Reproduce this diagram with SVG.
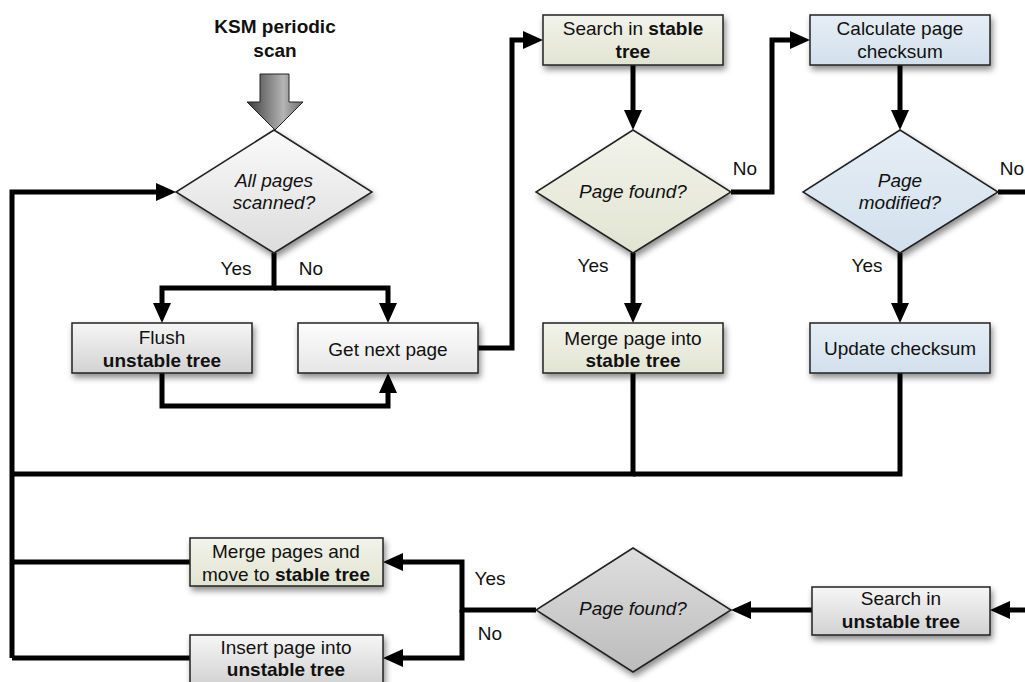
<svg xmlns="http://www.w3.org/2000/svg" width="1025" height="682" viewBox="0 0 1025 682">
  <defs>
    <style>
      text { font-family: "Liberation Sans", Arial, sans-serif; font-size: 19px; fill: #111; text-anchor: middle; }
      .b { font-weight: bold; }
      .i { font-style: italic; }
      .node { stroke: #222; stroke-width: 1.5; filter: url(#shadow); }
      .conn { fill: none; stroke: #000; stroke-width: 5; stroke-linejoin: miter; }
      .arr { marker-end: url(#head); }
    </style>
    <filter id="shadow" x="-20%" y="-30%" width="150%" height="170%">
      <feDropShadow dx="2" dy="4" stdDeviation="3" flood-color="#000" flood-opacity="0.45"/>
    </filter>
    <marker id="head" markerUnits="userSpaceOnUse" viewBox="0 0 20 18" refX="10" refY="9" markerWidth="20" markerHeight="18" orient="auto">
      <path d="M0,0 L20,9 L0,18 z" fill="#000"/>
    </marker>
    <linearGradient id="gGray" x1="0" y1="0" x2="0" y2="1">
      <stop offset="0" stop-color="#f6f6f6"/>
      <stop offset="1" stop-color="#d2d2d2"/>
    </linearGradient>
    <linearGradient id="gWhite" x1="0" y1="0" x2="0" y2="1">
      <stop offset="0" stop-color="#fdfdfd"/>
      <stop offset="1" stop-color="#e6e6e6"/>
    </linearGradient>
    <linearGradient id="gGreen" x1="0" y1="0" x2="0" y2="1">
      <stop offset="0" stop-color="#f2f3ea"/>
      <stop offset="1" stop-color="#e2e4d2"/>
    </linearGradient>
    <linearGradient id="gBlue" x1="0" y1="0" x2="0" y2="1">
      <stop offset="0" stop-color="#e6eef6"/>
      <stop offset="1" stop-color="#d2e0ec"/>
    </linearGradient>
    <linearGradient id="gDia1" x1="0" y1="0" x2="0" y2="1">
      <stop offset="0" stop-color="#fafafa"/>
      <stop offset="1" stop-color="#dcdcdc"/>
    </linearGradient>
    <linearGradient id="gDia4" x1="0" y1="0" x2="0" y2="1">
      <stop offset="0" stop-color="#dedede"/>
      <stop offset="1" stop-color="#bcbcbc"/>
    </linearGradient>
    <linearGradient id="gBig" x1="0" y1="0" x2="1" y2="0">
      <stop offset="0" stop-color="#3c3c3c"/>
      <stop offset="0.65" stop-color="#b4b4b4"/>
      <stop offset="1" stop-color="#6a6a6a"/>
    </linearGradient>
  </defs>

  <!-- entry label and arrow -->
  <g id="start">
    <text class="b" x="275" y="33">KSM periodic</text>
    <text class="b" x="275" y="57">scan</text>
    <path d="M260,74 H289 V102 H303 L275,130 L247,102 H260 Z" fill="url(#gBig)" stroke="#222" stroke-width="1"/>
  </g>

  <!-- connectors -->
  <g id="connectors">
    <path class="conn arr" d="M274,253 V288 H162 V313"/>
    <path class="conn arr" d="M274,288 H388 V313"/>
    <path class="conn arr" d="M162,373 V406 H388 V383"/>
    <path class="conn arr" d="M478,348 H512 V40 H533"/>
    <path class="conn arr" d="M633,65 V120"/>
    <path class="conn arr" d="M731,192 H772 V40 H800"/>
    <path class="conn arr" d="M900,65 V120"/>
    <path class="conn" d="M998,192 H1030"/>
    <path class="conn arr" d="M633,253 V313"/>
    <path class="conn arr" d="M900,253 V313"/>
    <path class="conn" d="M633,373 V474 H12"/>
    <path class="conn" d="M900,373 V474 H633"/>
    <path class="conn arr" d="M12,658 V192 H166"/>
    <path class="conn" d="M190,562 H12"/>
    <path class="conn" d="M190,658 H12"/>
    <path class="conn arr" d="M536,610 H462 V562 H393"/>
    <path class="conn arr" d="M462,610 V658 H393"/>
    <path class="conn arr" d="M812,610 H741"/>
    <path class="conn arr" d="M1030,610 H1000"/>
  </g>

  <!-- branch labels -->
  <g id="labels">
    <text x="236" y="275">Yes</text>
    <text x="311" y="275">No</text>
    <text x="745" y="175">No</text>
    <text x="593" y="272">Yes</text>
    <text x="1012" y="175">No</text>
    <text x="867" y="272">Yes</text>
    <text x="490" y="585">Yes</text>
    <text x="490" y="640">No</text>
  </g>

  <g id="allScanned">
    <path class="node" d="M274,130 L372,192 L274,253 L176,192 Z" fill="url(#gDia1)"/>
    <text class="i" x="274" y="187">All pages</text>
    <text class="i" x="274" y="209">scanned?</text>
  </g>

  <g id="flush">
    <rect class="node" x="72" y="323" width="180" height="50" fill="url(#gGray)"/>
    <text x="162" y="344">Flush</text>
    <text class="b" x="162" y="367">unstable tree</text>
  </g>

  <g id="nextPage">
    <rect class="node" x="298" y="323" width="180" height="50" fill="url(#gWhite)"/>
    <text x="388" y="356">Get next page</text>
  </g>

  <g id="searchStable">
    <rect class="node" x="543" y="15" width="180" height="50" fill="url(#gGreen)"/>
    <text x="633" y="35">Search in <tspan class="b">stable</tspan></text>
    <text class="b" x="633" y="58">tree</text>
  </g>

  <g id="foundStable">
    <path class="node" d="M633,130 L731,192 L633,253 L536,192 Z" fill="url(#gGreen)"/>
    <text class="i" x="633" y="198">Page found?</text>
  </g>

  <g id="mergeStable">
    <rect class="node" x="543" y="323" width="180" height="50" fill="url(#gGreen)"/>
    <text x="633" y="345">Merge page into</text>
    <text class="b" x="633" y="367">stable tree</text>
  </g>

  <g id="checksum">
    <rect class="node" x="810" y="15" width="180" height="50" fill="url(#gBlue)"/>
    <text x="900" y="35">Calculate page</text>
    <text x="900" y="58">checksum</text>
  </g>

  <g id="modified">
    <path class="node" d="M900,130 L998,192 L900,253 L803,192 Z" fill="url(#gBlue)"/>
    <text class="i" x="900" y="187">Page</text>
    <text class="i" x="900" y="209">modified?</text>
  </g>

  <g id="updateChecksum">
    <rect class="node" x="810" y="323" width="180" height="50" fill="url(#gBlue)"/>
    <text x="900" y="355">Update checksum</text>
  </g>

  <g id="searchUnstable">
    <rect class="node" x="812" y="587" width="178" height="48" fill="url(#gGray)"/>
    <text x="901" y="605">Search in</text>
    <text class="b" x="901" y="628">unstable tree</text>
  </g>

  <g id="foundUnstable">
    <path class="node" d="M633,548 L731,610 L633,672 L536,610 Z" fill="url(#gDia4)"/>
    <text class="i" x="633" y="615">Page found?</text>
  </g>

  <g id="mergePages">
    <rect class="node" x="190" y="538" width="193" height="48" fill="url(#gGreen)"/>
    <text x="286" y="558">Merge pages and</text>
    <text x="286" y="581">move to <tspan class="b">stable tree</tspan></text>
  </g>

  <g id="insertUnstable">
    <rect class="node" x="190" y="635" width="193" height="50" fill="url(#gGray)"/>
    <text x="286" y="654">Insert page into</text>
    <text class="b" x="286" y="676">unstable tree</text>
  </g>
</svg>
